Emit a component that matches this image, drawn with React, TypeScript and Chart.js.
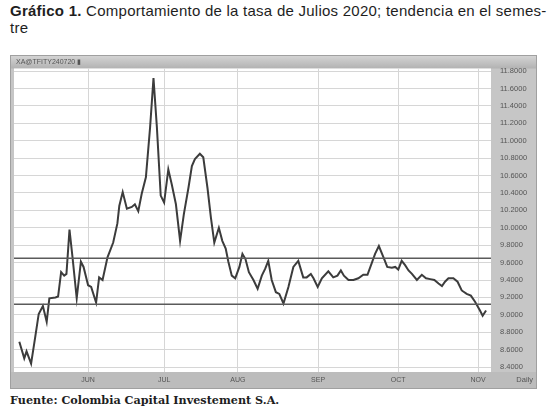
import React, { useEffect, useRef } from 'react';
import { Chart, registerables } from 'chart.js';

Chart.register(...registerables);

// Trading-session index (x) and rate (y)
const sessions = [
  1.4, 2.7, 3.3, 4.5, 5.6, 6.5, 7.6, 8.6, 9.3, 10.9,
  11.6, 12.4, 13.2, 13.8, 14.6, 15.4, 16.5, 17.6, 18.3, 19.5,
  20.3, 21.6, 22.4, 23.3, 24.6, 26.1, 27.2, 27.7, 28.6, 29.7,
  31.0, 31.8, 32.7, 33.6, 34.7, 35.8, 36.7, 37.6, 38.6, 39.5,
  40.6, 41.5, 42.6, 43.7, 44.7, 45.9, 46.8, 47.6, 48.9, 49.8,
  50.9, 51.8, 52.7, 53.9, 54.8, 55.7, 56.4, 57.3, 58.2, 59.3,
  60.1, 60.9, 61.8, 63.0, 64.1, 65.2, 66.1, 66.9, 67.8, 68.9,
  69.8, 70.9, 72.2, 73.5, 74.8, 76.1, 77.0, 78.1, 78.8, 79.9,
  81.0, 82.7, 84.0, 85.1, 86.0, 86.8, 88.0, 89.3, 90.6, 91.9,
  93.0, 94.1, 95.0, 96.0, 97.4, 98.2, 99.4, 100.3, 101.1, 102.0,
  102.9, 103.8, 104.7, 106.0, 107.3, 108.4, 109.5, 110.6, 111.7, 112.6,
  113.4, 114.3, 115.6, 116.7, 117.8, 119.1, 120.2, 121.3, 122.6, 123.3,
  124.2,
];

const rates = [
  8.69, 8.50, 8.58, 8.44, 8.75, 9.01, 9.10, 8.92, 9.19, 9.20,
  9.21, 9.49, 9.45, 9.47, 9.98, 9.66, 9.19, 9.61, 9.55, 9.34,
  9.32, 9.14, 9.43, 9.40, 9.66, 9.83, 10.05, 10.25, 10.41, 10.22,
  10.24, 10.27, 10.19, 10.39, 10.58, 11.15, 11.72, 11.15, 10.37, 10.29,
  10.67, 10.50, 10.27, 9.85, 10.16, 10.46, 10.71, 10.79, 10.85, 10.81,
  10.46, 10.12, 9.83, 10.00, 9.85, 9.76, 9.61, 9.45, 9.42, 9.55,
  9.70, 9.64, 9.49, 9.40, 9.30, 9.45, 9.53, 9.62, 9.40, 9.26,
  9.24, 9.13, 9.32, 9.55, 9.62, 9.43, 9.43, 9.47, 9.42, 9.32,
  9.42, 9.50, 9.43, 9.45, 9.51, 9.45, 9.40, 9.40, 9.42, 9.46,
  9.46, 9.59, 9.70, 9.79, 9.64, 9.55, 9.54, 9.55, 9.52, 9.62,
  9.57, 9.51, 9.47, 9.40, 9.46, 9.42, 9.41, 9.40, 9.36, 9.33,
  9.38, 9.42, 9.42, 9.38, 9.28, 9.24, 9.22, 9.15, 9.05, 8.99,
  9.05,
];

const monthTicks = [19.5, 39.5, 58.9, 80.0, 101.1, 122.1];
const monthLabels = ['JUN', 'JUL', 'AUG', 'SEP', 'OCT', 'NOV'];
const yTicks = [8.4, 8.6, 8.8, 9.0, 9.2, 9.4, 9.6, 9.8, 10.0, 10.2, 10.4, 10.6, 10.8, 11.0, 11.2, 11.4, 11.6, 11.8];
const xRange = [0, 125.5];
const yRange = [8.343, 11.83];
const upperLevel = 9.65;
const lowerLevel = 9.12;
const symbolLabel = 'XA@TFITY240720 \u25AE';
const periodLabel = 'Daily';

const framePlugin = {
  id: 'frame',
  beforeDraw(chart: any) {
    const { ctx, width, height, chartArea: a } = chart;
    ctx.save();
    ctx.fillStyle = '#c6c6c6';
    ctx.fillRect(0, 0, width, height);
    const g = ctx.createLinearGradient(0, 0, 0, a.top);
    g.addColorStop(0, '#d6d6d6');
    g.addColorStop(1, '#b2b2b2');
    ctx.fillStyle = g;
    ctx.fillRect(0, 0, width, a.top);
    ctx.fillStyle = '#bcbcbc';
    ctx.fillRect(0, a.bottom, width, height - a.bottom);
    ctx.fillStyle = '#ffffff';
    ctx.fillRect(a.left, a.top, a.right - a.left, a.bottom - a.top);
    ctx.strokeStyle = '#a0a0a0';
    ctx.lineWidth = 1;
    ctx.strokeRect(0.5, 0.5, width - 1, height - 1);
    ctx.restore();
  },
  afterDraw(chart: any) {
    const { ctx, width, chartArea: a } = chart;
    ctx.save();
    ctx.fillStyle = '#555';
    ctx.font = '7px "Liberation Sans", Arial, sans-serif';
    ctx.textBaseline = 'middle';
    ctx.textAlign = 'left';
    ctx.fillText(symbolLabel, 6, a.top / 2 + 0.5);
    ctx.textAlign = 'right';
    ctx.font = '7.5px "Liberation Sans", Arial, sans-serif';
    ctx.fillText(periodLabel, width - 4, a.bottom + 8);
    ctx.restore();
  },
};

export default function App() {
  const ref = useRef<HTMLCanvasElement | null>(null);

  useEffect(() => {
    if (!ref.current) return;
    const points = sessions.map((x, i) => ({ x, y: rates[i] }));
    const chart = new Chart(ref.current, {
      type: 'line',
      data: {
        datasets: [
          {
            data: [{ x: xRange[0], y: upperLevel }, { x: xRange[1], y: upperLevel }],
            borderColor: '#5a5a5a',
            borderWidth: 1.5,
            pointRadius: 0,
          },
          {
            data: [{ x: xRange[0], y: lowerLevel }, { x: xRange[1], y: lowerLevel }],
            borderColor: '#5a5a5a',
            borderWidth: 1.5,
            pointRadius: 0,
          },
          {
            data: points,
            borderColor: '#3c3c3c',
            borderWidth: 2,
            pointRadius: 0,
            tension: 0,
          },
        ],
      },
      options: {
        responsive: false,
        animation: false,
        layout: { padding: { left: 4, top: 12, right: 1, bottom: 2 } },
        plugins: { legend: { display: false }, tooltip: { enabled: false }, title: { display: false } },
        scales: {
          x: {
            type: 'linear',
            min: xRange[0],
            max: xRange[1],
            afterBuildTicks: (s: any) => {
              s.ticks = monthTicks.map((v) => ({ value: v }));
            },
            afterFit: (s: any) => {
              s.height = 15;
            },
            ticks: {
              autoSkip: false,
              maxRotation: 0,
              padding: 4,
              color: '#555',
              font: { size: 7, family: '"Liberation Sans", Arial, sans-serif' },
              callback: (_v: any, i: number) => monthLabels[i],
            },
            grid: { color: '#d6d6d6', lineWidth: 1, drawTicks: false },
            border: { display: false },
          },
          y: {
            position: 'right',
            min: yRange[0],
            max: yRange[1],
            afterBuildTicks: (s: any) => {
              s.ticks = yTicks.map((v) => ({ value: v }));
            },
            afterFit: (s: any) => {
              s.width = 45;
            },
            ticks: {
              padding: 9,
              color: '#555',
              font: { size: 7.5, family: '"Liberation Sans", Arial, sans-serif' },
              callback: (v: any) => Number(v).toFixed(4),
            },
            grid: { color: '#d6d6d6', lineWidth: 1, drawTicks: false },
            border: { display: false },
          },
        },
      },
      plugins: [framePlugin],
    });
    return () => chart.destroy();
  }, []);

  return (
    <div style={{ position: 'absolute', left: 0, top: 0, width: 554, height: 414, background: '#fff' }}>
      <div
        style={{
          position: 'absolute',
          left: 10,
          top: 2,
          fontFamily: '"Liberation Sans", Arial, sans-serif',
          fontSize: 15,
          letterSpacing: '0.25px',
          lineHeight: '17px',
          color: '#1e1e1e',
          whiteSpace: 'nowrap',
        }}
      >
        <b>Gráfico 1.</b> Comportamiento de la tasa de Julios 2020; tendencia en el semes-
        <br />
        tre
      </div>
      <canvas ref={ref} width={527} height={334} style={{ position: 'absolute', left: 10, top: 55 }} />
      <div
        style={{
          position: 'absolute',
          left: 10,
          top: 393,
          fontFamily: '"DejaVu Serif", "Liberation Serif", serif',
          fontWeight: 'bold',
          fontSize: 11.2,
          lineHeight: '15px',
          color: '#1e1e1e',
          whiteSpace: 'nowrap',
        }}
      >
        Fuente: Colombia Capital Investement S.A.
      </div>
    </div>
  );
}
